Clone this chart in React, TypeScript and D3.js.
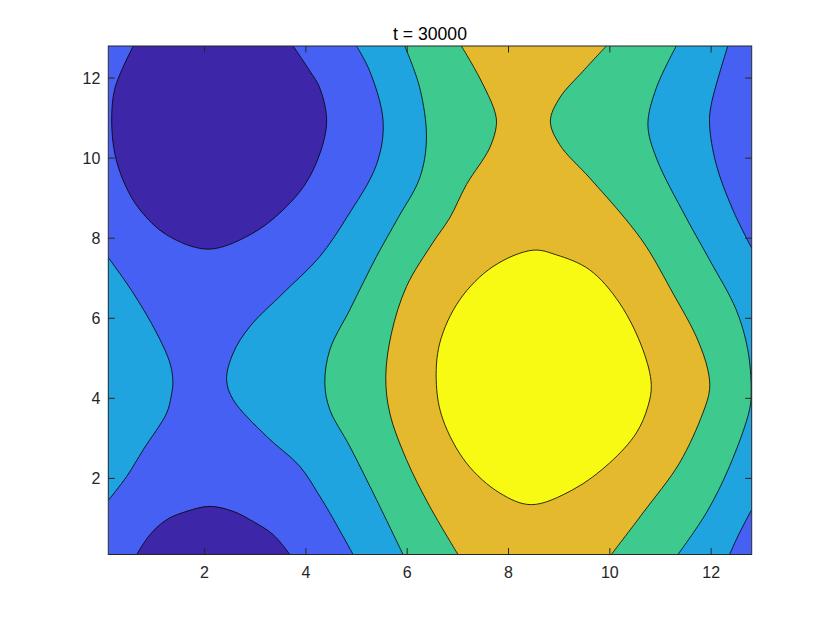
import React from "react";
import * as d3 from "d3";

type P = [number, number];

const WIDTH = 830;
const HEIGHT = 623;

const xDomain: [number, number] = [0.1, 12.8];
const yDomain: [number, number] = [0.1, 12.8];
const xTicks = [2, 4, 6, 8, 10, 12];
const yTicks = [2, 4, 6, 8, 10, 12];
const titleText = "t = 30000";
// contour levels (low -> high) and the parula fill colour of each band
const levelValues = [-2, -1, 0, 1, 2];
const bandColors = ["#3E26A8", "#4760F4", "#1FA4DF", "#3ECA8E", "#E4B92D", "#F8FA14"];

// ---- contour lines (data coordinates) ----
// level -2 : dark blob at the top (top edge -> top edge)
const darkTop: P[] = [
  [0.593, 12.8], [0.232, 11.752], [0.167, 10.928], [0.232, 10.087], [0.429, 9.339],
  [0.725, 8.707], [1.252, 8.083], [2.072, 7.726], [2.895, 8.083], [3.552, 8.707],
  [4.078, 9.538], [4.408, 10.836], [4.275, 11.752], [4.078, 12.176], [3.749, 12.8],
];
// level -2 : dark blob at the bottom (bottom edge -> bottom edge)
const darkBottom: P[] = [
  [0.66, 0.1], [0.922, 0.596], [1.252, 0.971], [1.646, 1.178], [2.106, 1.302],
  [2.565, 1.178], [2.895, 0.971], [3.354, 0.596], [3.684, 0.1],
];
// level -1 : cyan bulge on the left edge
const cyanLeft: P[] = [
  [0.1, 7.517], [0.593, 6.628], [1.055, 5.63], [1.317, 4.881], [1.375, 4.4],
  [1.34, 4.05], [1.252, 3.633], [0.79, 2.718], [0.463, 2.05], [0.1, 1.452],
];
// level -1 : middle line (top -> bottom)
const blueCyanMid: P[] = [
  [4.999, 12.8], [5.262, 12.169], [5.524, 10.921], [5.394, 9.838], [4.802, 8.508],
  [4.275, 7.542], [3.552, 6.628], [2.895, 5.795], [2.565, 5.131], [2.435, 4.465],
  [2.565, 3.966], [3.224, 3.05], [3.881, 2.301], [4.275, 1.552], [4.473, 1.138], [4.932, 0.1],
];
// level -1 : top right corner (top edge -> right edge)
const blueCyanRightTop: P[] = [
  [12.329, 12.8], [12.001, 11.335], [11.968, 10.836], [12.1, 9.838], [12.428, 8.707], [12.8, 7.751],
];
// level -1 : bottom right corner (right edge -> bottom edge)
const blueCyanRightBottom: P[] = [[12.8, 1.22], [12.559, 0.639], [12.362, 0.1]];
// level 0 : middle (top -> bottom)
const cyanGreenMid: P[] = [
  [5.952, 12.8], [6.248, 11.752], [6.38, 10.504], [6.248, 9.506], [5.82, 8.508],
  [5.394, 7.542], [4.867, 6.212], [4.473, 5.213], [4.374, 4.382], [4.473, 3.716],
  [4.867, 2.8], [5.394, 1.47], [5.918, 0.1],
];
// level 0 : right (top -> bottom)
const cyanGreenRight: P[] = [
  [11.311, 12.8], [10.917, 11.752], [10.751, 10.836], [10.917, 10.005], [11.508, 8.508],
  [11.968, 7.459], [12.494, 6.212], [12.723, 5.213], [12.79, 4.215], [12.757, 3.716],
  [12.362, 2.301], [11.903, 1.138], [11.343, 0.1],
];
// level 1 : middle (top -> bottom)
const greenOrangeMid: P[] = [
  [7.07, 12.8], [7.431, 12.001], [7.727, 11.17], [7.761, 10.836], [7.628, 10.254],
  [7.169, 9.339], [6.84, 8.508], [6.5, 7.876], [5.986, 6.793], [5.69, 5.63],
  [5.577, 4.547], [5.656, 3.633], [5.986, 2.468], [6.445, 1.302], [7.003, 0.1],
];
// level 1 : right (top -> bottom)
const greenOrangeRight: P[] = [
  [9.93, 12.8], [9.469, 12.169], [9.009, 11.502], [8.826, 10.921], [9.009, 10.337],
  [9.601, 9.506], [10.291, 8.508], [10.719, 7.791], [11.244, 6.628], [11.705, 5.545],
  [11.934, 4.714], [11.968, 4.215], [11.836, 3.633], [11.375, 2.386], [10.653, 1.138], [10.029, 0.1],
];
// level 2 : closed yellow blob
const yellowBlob: P[] = [
  [8.48, 7.7], [8.944, 7.584], [9.601, 7.21], [10.192, 6.379], [10.653, 5.213],
  [10.818, 4.34], [10.751, 3.798], [10.522, 3.134], [9.995, 2.386], [9.272, 1.72],
  [8.45, 1.345], [7.826, 1.637], [7.169, 2.386], [6.707, 3.466], [6.577, 4.34],
  [6.643, 5.381], [7.037, 6.461], [7.694, 7.292],
];

export default function App() {
  const left = 108.3, right = 751.7, top = 46, bottom = 554.5;
  const x = d3.scaleLinear().domain(xDomain).range([left, right]);
  const y = d3.scaleLinear().domain(yDomain).range([bottom, top]);

  const lineGen = d3
    .line<P>()
    .x((d) => x(d[0]))
    .y((d) => y(d[1]))
    .curve(d3.curveCatmullRom.alpha(0.5));
  const closedGen = d3
    .line<P>()
    .x((d) => x(d[0]))
    .y((d) => y(d[1]))
    .curve(d3.curveCatmullRomClosed.alpha(0.5));

  const region = (parts: [P[], boolean][]) =>
    parts
      .map(([pts, rev], i) => {
        const s = lineGen(rev ? [...pts].reverse() : pts) as string;
        return i === 0 ? s : "L" + s.slice(1);
      })
      .join("") + "Z";

  const fills: { d: string; color: string }[] = [
    { d: region([[cyanLeft, false]]), color: bandColors[2] },
    {
      d: region([[blueCyanMid, false], [blueCyanRightBottom, true], [blueCyanRightTop, true]]),
      color: bandColors[2],
    },
    { d: region([[cyanGreenMid, false], [cyanGreenRight, true]]), color: bandColors[3] },
    { d: region([[greenOrangeMid, false], [greenOrangeRight, true]]), color: bandColors[4] },
    { d: closedGen(yellowBlob) as string, color: bandColors[5] },
    { d: region([[darkTop, false]]), color: bandColors[0] },
    { d: region([[darkBottom, false]]), color: bandColors[0] },
  ];

  const openLines = [
    darkTop, darkBottom, cyanLeft, blueCyanMid, blueCyanRightTop, blueCyanRightBottom,
    cyanGreenMid, cyanGreenRight, greenOrangeMid, greenOrangeRight,
  ];

  const axisColor = "#262626";
  const font = "'Liberation Sans', Arial, Helvetica, sans-serif";
  const tickLen = 6.5;

  return (
    <svg
      width={WIDTH}
      height={HEIGHT}
      style={{ position: "absolute", left: 0, top: 0, background: "#fff" }}
      data-levels={levelValues.join(",")}
    >
      <defs>
        <clipPath id="plotClip">
          <rect x={left} y={top} width={right - left} height={bottom - top} />
        </clipPath>
      </defs>
      <rect x={0} y={0} width={WIDTH} height={HEIGHT} fill="#fff" />
      <g clipPath="url(#plotClip)">
        <rect x={left} y={top} width={right - left} height={bottom - top} fill={bandColors[1]} />
        {fills.map((f, i) => (
          <path key={i} d={f.d} fill={f.color} stroke="none" />
        ))}
        {openLines.map((pts, i) => (
          <path key={"l" + i} d={lineGen(pts) as string} fill="none" stroke="#000" strokeWidth={0.8} />
        ))}
        <path d={closedGen(yellowBlob) as string} fill="none" stroke="#000" strokeWidth={0.8} />
      </g>
      {/* axes box */}
      <rect x={left} y={top} width={right - left} height={bottom - top} fill="none" stroke={axisColor} strokeWidth={1} />
      {xTicks.map((t) => (
        <g key={"xt" + t}>
          <line x1={x(t)} x2={x(t)} y1={bottom} y2={bottom - tickLen} stroke={axisColor} />
          <line x1={x(t)} x2={x(t)} y1={top} y2={top + tickLen} stroke={axisColor} />
          <text x={x(t)} y={bottom + 23.5} textAnchor="middle" fontFamily={font} fontSize={16} fill={axisColor}>
            {t}
          </text>
        </g>
      ))}
      {yTicks.map((t) => (
        <g key={"yt" + t}>
          <line x1={left} x2={left + tickLen} y1={y(t)} y2={y(t)} stroke={axisColor} />
          <line x1={right} x2={right - tickLen} y1={y(t)} y2={y(t)} stroke={axisColor} />
          <text x={left - 8} y={y(t)} dy="0.36em" textAnchor="end" fontFamily={font} fontSize={16} fill={axisColor}>
            {t}
          </text>
        </g>
      ))}
      <text x={(left + right) / 2} y={40} textAnchor="middle" fontFamily={font} fontSize={17.6} fill="#000">
        {titleText}
      </text>
    </svg>
  );
}
